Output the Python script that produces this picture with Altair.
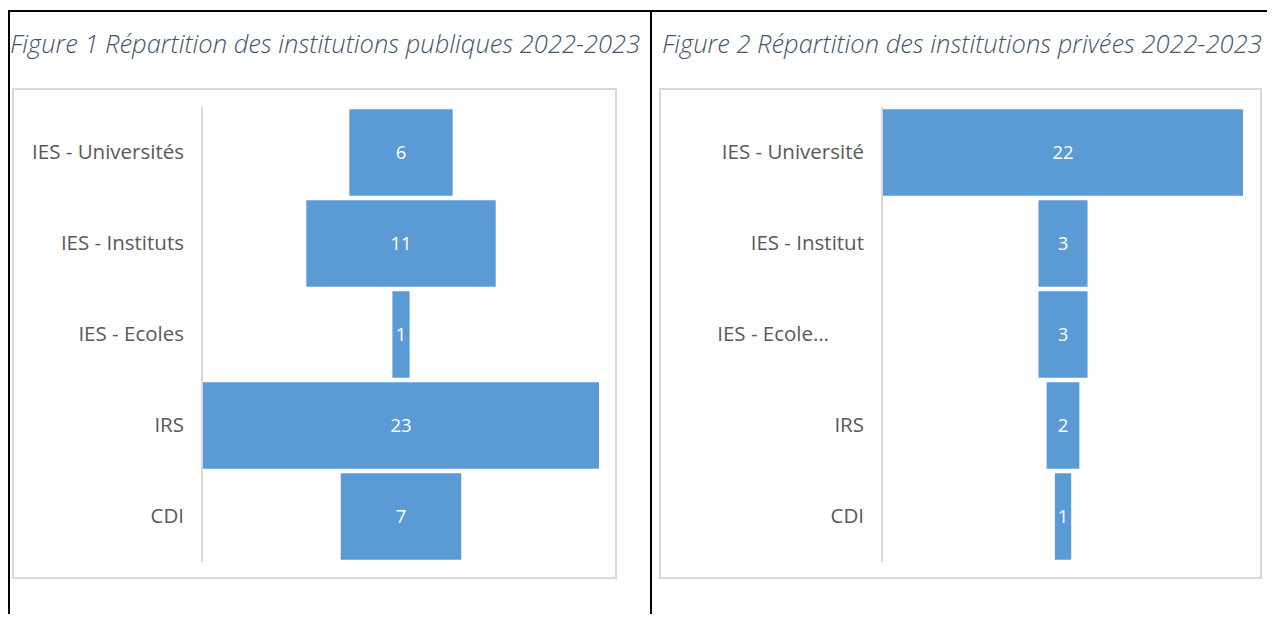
import altair as alt
import pandas as pd

# Data
pub_categories = ["IES - Universités", "IES - Instituts", "IES - Ecoles", "IRS", "CDI"]
pub_values = [6, 11, 1, 23, 7]
priv_categories = ["IES - Université", "IES - Institut", "IES - Ecole…", "IRS", "CDI"]
priv_values = [22, 3, 3, 2, 1]
titles = ["Figure 1 Répartition des institutions publiques 2022-2023",
          "Figure 2 Répartition des institutions privées 2022-2023"]

BAR = "#5B9BD5"
GRID = "#D9D9D9"
LABEL = "#595959"
TITLE = "#44546A"
W, H = 1259, 606

pub = pd.DataFrame({"cat": pub_categories, "v": pub_values, "o": range(5)})
priv = pd.DataFrame({"cat": priv_categories, "v": priv_values, "o": range(5)})

one = pd.DataFrame({"a": [0]})
TRUNC = "indexof(datum.cat, '…') >= 0"


def panel(df, xdomain, xrange, axis_x, label_x):
    base = alt.Chart(df).transform_calculate(
        lo="-datum.v/2", hi="datum.v/2", mid="0"
    )
    yenc = alt.Y("cat:N", sort=alt.SortField("o"), axis=None,
                 scale=alt.Scale(range=[99, 554], paddingInner=0.05, paddingOuter=0.025))
    xscale = alt.Scale(domain=xdomain, range=xrange, nice=False, zero=False)
    bars = base.mark_bar(color=BAR).encode(
        x=alt.X("lo:Q", scale=xscale, axis=None), x2="hi:Q", y=yenc)
    vals = base.mark_text(color="white", font="Open Sans", fontSize=18.5,
                          baseline="middle", align="center").encode(
        x=alt.X("mid:Q", scale=xscale, axis=None), y=yenc, text="v:Q")
    labs = base.transform_filter("!(" + TRUNC + ")").mark_text(
        color=LABEL, font="Open Sans", fontSize=20.5,
        baseline="middle", align="right").encode(
        x=alt.value(label_x), y=yenc, text="cat:N")
    labs_t = base.transform_filter(TRUNC).mark_text(
        color=LABEL, font="Open Sans", fontSize=20.5,
        baseline="middle", align="right").encode(
        x=alt.value(label_x - 35), y=yenc, text="cat:N")
    axis = alt.Chart(one).mark_rule(color=GRID, strokeWidth=2).encode(
        x=alt.value(axis_x), y=alt.value(99), y2=alt.value(554))
    return alt.layer(axis, bars, vals, labs, labs_t)


# decorative frame: table borders, chart boxes, titles
box1 = alt.Chart(one).mark_rect(fill="white", stroke=GRID, strokeWidth=2).encode(
    x=alt.value(5), x2=alt.value(608), y=alt.value(81), y2=alt.value(570))
box2 = alt.Chart(one).mark_rect(fill="white", stroke=GRID, strokeWidth=2).encode(
    x=alt.value(652), x2=alt.value(1253), y=alt.value(81), y2=alt.value(570))
top = alt.Chart(one).mark_rule(color="black", strokeWidth=2).encode(
    x=alt.value(0), x2=alt.value(W), y=alt.value(3))
left = alt.Chart(one).mark_rule(color="black", strokeWidth=2).encode(
    x=alt.value(1), y=alt.value(3), y2=alt.value(H))
mid = alt.Chart(one).mark_rule(color="black", strokeWidth=2).encode(
    x=alt.value(643), y=alt.value(3), y2=alt.value(H))
t1 = alt.Chart(pd.DataFrame({"t": [titles[0]]})).mark_text(
    font="Open Sans", fontStyle="italic", fontWeight=300, fontSize=25.5, color=TITLE,
    align="left", baseline="middle").encode(
    x=alt.value(2), y=alt.value(37), text="t:N")
t2 = alt.Chart(pd.DataFrame({"t": [titles[1]]})).mark_text(
    font="Open Sans", fontStyle="italic", fontWeight=300, fontSize=25.5, color=TITLE,
    align="left", baseline="middle").encode(
    x=alt.value(654), y=alt.value(37), text="t:N")

p1 = panel(pub, [-11.5, 11.5], [195, 591], 194, 176)
p2 = panel(priv, [-11, 11], [875, 1235], 874, 856)

chart = alt.layer(
    box1, box2, top, left, mid, t1, t2, p1, p2
).resolve_scale(x="independent", y="independent").properties(
    width=W, height=H, padding=0, autosize=alt.AutoSizeParams(type="none")
).configure_view(stroke=None)

chart.save("out.html", embed_options={"renderer": "svg", "actions": False})
